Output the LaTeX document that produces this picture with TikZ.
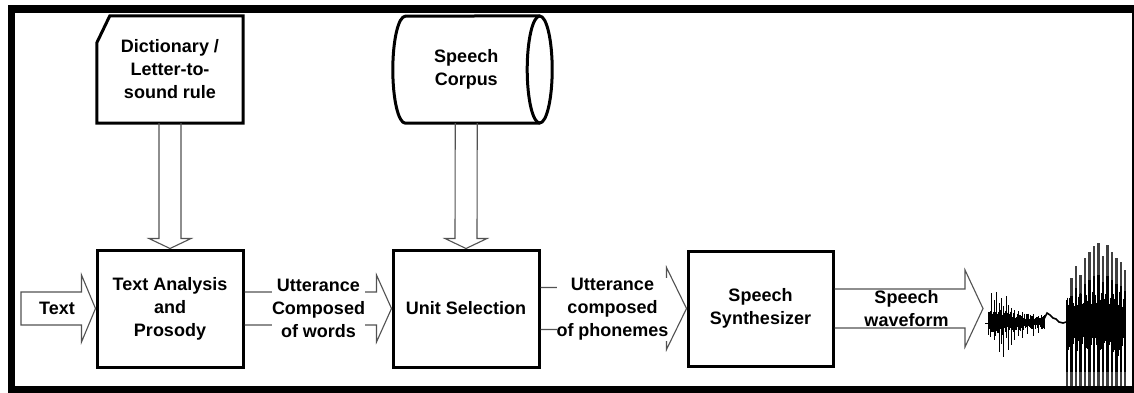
\documentclass[tikz,border=0pt]{standalone}
\usepackage{fontspec}
\setmainfont{Liberation Sans}
\usetikzlibrary{calc}
\tikzset{
  boxline/.style={draw=black, line width=3pt, line join=miter},
  procbox/.style={boxline, minimum width=146pt, minimum height=117pt, inner sep=0pt,
    align=center, font=\bfseries\fontsize{18}{23}\selectfont},
  plainbox/.style={minimum width=146pt, minimum height=107pt, inner sep=0pt,
    align=center, font=\bfseries\fontsize{18}{23}\selectfont},
  blk/.style={draw=black!68, line width=1.1pt, line join=miter},
  lbl/.style={font=\bfseries\fontsize{18}{23}\selectfont, align=center, inner sep=0pt, fill=white},
  wave/.style={draw=black, line width=1pt},
  spike/.style={draw=black!75, line width=2.2pt},
  core/.style={draw=black, line width=2.6pt},
}
% horizontal block arrow: from, to, shaft half, head half, head length
\newcommand\hblockarrow[5]{%
  \draw[blk] ($(#1)+(0,-#3)$) -- ($(#2)+(-#5,-#3)$) -- ($(#2)+(-#5,-#4)$) -- (#2)
    -- ($(#2)+(-#5,#4)$) -- ($(#2)+(-#5,#3)$) -- ($(#1)+(0,#3)$);}
% vertical block arrow (downwards): from, to, shaft half, head half, head length
\newcommand\vblockarrow[5]{%
  \draw[blk] ($(#1)+(-#3,0)$) -- ($(#2)+(-#3,-#5)$) -- ($(#2)+(-#4,-#5)$) -- (#2)
    -- ($(#2)+(#4,-#5)$) -- ($(#2)+(#3,-#5)$) -- ($(#1)+(#3,0)$);}
\begin{document}
\begin{tikzpicture}[x=1pt,y=-1pt]
\useasboundingbox (0,0) rectangle (1134,392);
\fill[white] (0,0) rectangle (1134,392);

% --- nodes ---
\node[plainbox] (dict) at (170,69.5) {Dictionary /\\Letter-to-\\sound rule};
\draw[boxline] (dict.south west) -- (dict.south east) -- (dict.north east)
  -- ($(dict.north west)+(13,0)$) -- ($(dict.north west)+(0,27)$) -- cycle;

\node[plainbox, minimum width=146.5pt] (corpus) at (466.25,69.5) {Speech\\Corpus};
\draw[boxline] (corpus.south east) -- ($(corpus.south west)+(12.5,0)$)
  arc[start angle=270, end angle=90, x radius=12.5pt, y radius=53.5pt]
  -- (corpus.north east);
\draw[boxline] (corpus.east) ellipse[x radius=12.5pt, y radius=53.5pt];

\node[procbox] (ta) at (170,308.5) {Text Analysis\\and\\Prosody};
\node[procbox] (us) at (466,308.5) {Unit Selection};
\node[procbox, minimum width=145pt, minimum height=115pt] (ss) at (760.5,308.5) {Speech\\Synthesizer};

\coordinate (textin) at (21,308.5);
\coordinate (wavein) at (983,308.5);

% --- block arrows ---
\vblockarrow{dict.south}{ta.north}{11}{21}{10}
\vblockarrow{corpus.south}{us.north}{11}{21}{10}
\draw[blk] ($(textin)+(0,-16.5)$) -- ($(ta.west)+(-14,-16.5)$) -- ($(ta.west)+(-14,-33.5)$) -- (ta.west)
  -- ($(ta.west)+(-14,33.5)$) -- ($(ta.west)+(-14,16.5)$) -- ($(textin)+(0,16.5)$) -- cycle;
\node[font=\bfseries\fontsize{18}{23}\selectfont, inner sep=0pt] (textlbl) at (57,308) {Text};

\hblockarrow{ta.east}{us.west}{16.5}{33.5}{15}
\node[lbl] (l1) at (318.5,308.5) {Utterance\\Composed\\of words};

\hblockarrow{us.east}{ss.west}{21}{41}{20}
\node[lbl] (l2) at (612.5,309.5) {Utterance\\composed\\of phonemes};

\hblockarrow{ss.east}{wavein}{19.5}{38.5}{18}
\node[lbl] (l3) at (906.5,308.5) {Speech\\waveform};

% --- waveform, first (noisy) part ---
\pgfmathsetseed{4242}
\draw[wave] (985,323) -- (990,323);
\foreach \x in {988,...,1044}{
  \pgfmathsetmacro\env{6+12*exp(-(\x-988)/25)}
  \pgfmathsetmacro\ua{\env*(0.4+0.6*rnd)}
  \pgfmathsetmacro\da{\env*(0.4+0.6*rnd)}
  \draw[wave] (\x,322-\ua) -- (\x,322+\da);
}
\foreach \x/\t/\b in {991/293/332, 994/300/340, 996/292/326, 999/303/352, 1001/298/344,
  1003/306/357, 1006/296/338, 1008/305/350, 1011/308/345, 1014/310/340, 1018/311/336,
  1022/312/338, 1027/314/334, 1033/314/336, 1038/316/333}{
  \draw[wave] (\x,\t) -- (\x,\b);
}
\draw[wave, line width=1.6pt] (1042,323) -- (1045,317) -- (1047,313) -- (1050,315)
  -- (1053,318) -- (1056,319) -- (1059,322) -- (1063,323) -- (1066,322);

% --- waveform, second (voiced) part ---
\foreach \x/\t in {1067/300, 1071.5/278, 1076/266, 1080.5/275, 1085/258, 1089.5/252,
  1094/246, 1098.5/243, 1103/256, 1107.5/245, 1112/252, 1116.5/258, 1121/262, 1125/270}{
  \draw[spike] (\x,\t) -- (\x,392);
  \pgfmathsetmacro\ct{322-0.6*(322-\t)}
  \draw[core] (\x,\ct) -- (\x,372);
}
\foreach \x in {1066,...,1125}{
  \pgfmathsetmacro\ua{14+16*rnd}
  \pgfmathsetmacro\da{14+20*rnd}
  \draw[wave] (\x,322-\ua) -- (\x,322+\da);
}

% --- frame ---
\draw[line width=7.5pt] (11.5,9) rectangle (1135.5,389.5);
\end{tikzpicture}
\end{document}
